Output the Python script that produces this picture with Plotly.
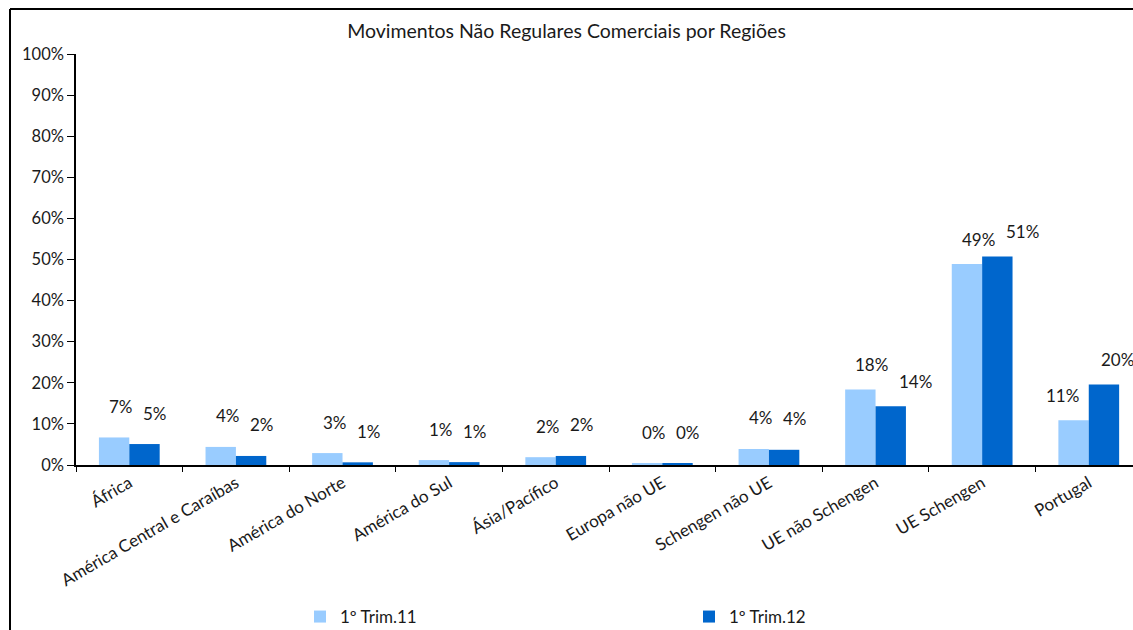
import plotly.graph_objects as go

# Dados
regioes = ["África", "América Central e Caraíbas", "América do Norte", "América do Sul",
           "Ásia/Pacífico", "Europa não UE", "Schengen não UE", "UE não Schengen",
           "UE Schengen", "Portugal"]
trim11 = [6.7, 4.4, 2.9, 1.2, 1.9, 0.4, 3.9, 18.4, 48.9, 10.9]
trim12 = [5.1, 2.2, 0.65, 0.7, 2.2, 0.45, 3.7, 14.3, 50.7, 19.6]
series = [("1º Trim.11", trim11, "#99CCFF"), ("1º Trim.12", trim12, "#0066CC")]

font_fam = "Lato, Open Sans, sans-serif"

fig = go.Figure()
for nome, vals, cor in series:
    fig.add_trace(go.Bar(
        x=regioes, y=[v / 100 for v in vals], name=nome,
        marker=dict(color=cor, line=dict(width=0)),
    ))

# rótulos de dados, acima das barras (posição parecida com a do Excel)
for i, (nome, vals, cor) in enumerate(series):
    for reg, v in zip(regioes, vals):
        txt = f"{round(v)}%"
        dois = len(txt) > 2
        if i == 0:
            dx = -4 if dois else -8
        else:
            dx = 40 if dois else 26
        if reg == "Portugal":
            dx = -26 if i == 0 else 29
        fig.add_annotation(
            x=reg, y=v / 100, text=txt, showarrow=False,
            xshift=dx, yshift=25 if dois else 31,
            font=dict(size=17, color="#1a1a1a", family=font_fam),
        )

fig.update_layout(
    width=1133, height=630,
    margin=dict(l=76, r=0, t=54, b=165),
    paper_bgcolor="white", plot_bgcolor="white",
    font=dict(family=font_fam, size=16, color="#1a1a1a"),
    title=dict(text="Movimentos Não Regulares Comerciais por Regiões",
               x=0.5, xref="container", xanchor="center",
               y=1 - 31 / 630, yanchor="middle",
               font=dict(size=19.5)),
    bargap=0.43, bargroupgap=0,
    showlegend=True,
    legend=dict(orientation="h", x=(300 - 76) / 1057, xanchor="left",
                yref="container", y=1 - 617 / 630, yanchor="middle",
                entrywidth=344, entrywidthmode="pixels",
                font=dict(size=17)),
    xaxis=dict(range=[-0.5, 9.415], showline=True, linecolor="black", linewidth=1.5,
               ticks="outside", tickson="boundaries", ticklen=5, tickcolor="black",
               tickangle=-30, showgrid=False, tickfont=dict(size=17), automargin=False),
    yaxis=dict(range=[0, 1], tickformat=".0%", dtick=0.1, showline=True,
               linecolor="black", linewidth=1.5, ticks="outside", ticklen=7,
               tickcolor="black", showgrid=False, zeroline=False,
               tickfont=dict(size=16.5), automargin=False),
)

# moldura do gráfico (esquerda e topo)
fig.add_shape(type="line", xref="paper", yref="paper",
              x0=(10 - 76) / 1057, x1=(10 - 76) / 1057, y0=(465 - 640) / 411, y1=(465 - 9) / 411,
              line=dict(color="black", width=2))
fig.add_shape(type="line", xref="paper", yref="paper",
              x0=(10 - 76) / 1057, x1=1.02, y0=(465 - 9) / 411, y1=(465 - 9) / 411,
              line=dict(color="black", width=2))

# sem margem no body, para o gráfico ficar no canto da página
fig.write_html("out.html", config={"displayModeBar": False},
               post_script="document.body.style.margin='0';")
